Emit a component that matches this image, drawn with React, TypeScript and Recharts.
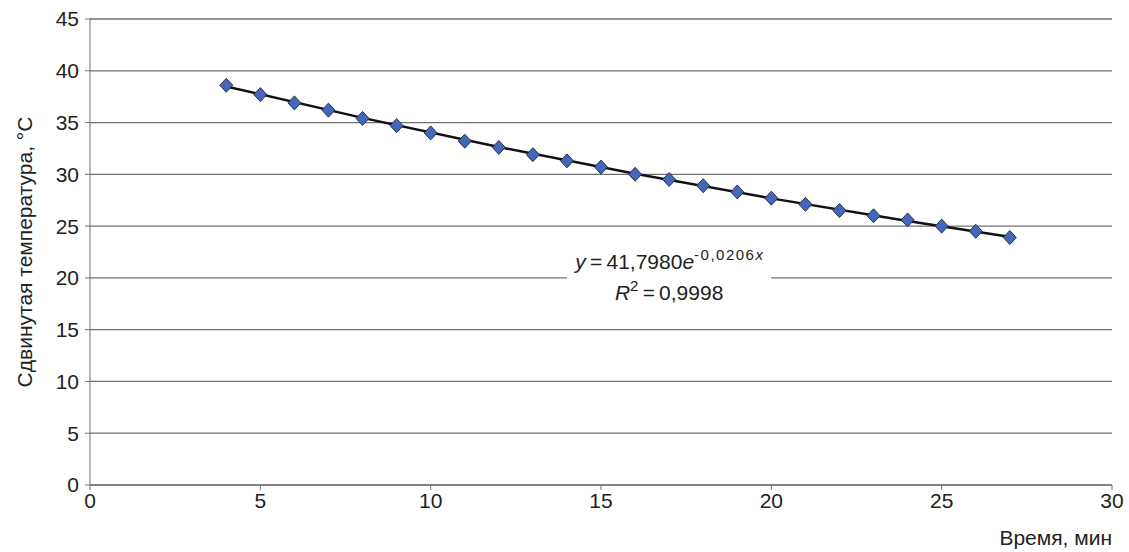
import React from 'react';
import { ComposedChart, Scatter, Line, XAxis, YAxis, CartesianGrid, ReferenceArea } from 'recharts';

const timeMin = [4, 5, 6, 7, 8, 9, 10, 11, 12, 13, 14, 15, 16, 17, 18, 19, 20, 21, 22, 23, 24, 25, 26, 27];
const shiftedTemp = [38.6, 37.7, 36.9, 36.2, 35.4, 34.7, 34.0, 33.2, 32.6, 31.9, 31.3, 30.7, 30.0, 29.5, 28.9, 28.3, 27.7, 27.1, 26.5, 26.0, 25.6, 25.0, 24.5, 23.9];
const trendX = [4, 8, 12, 16, 20, 24, 27];
const trendY = [38.49, 35.45, 32.64, 30.06, 27.68, 25.49, 23.97];
const xTicks = [0, 5, 10, 15, 20, 25, 30];
const yTicks = [0, 5, 10, 15, 20, 25, 30, 35, 40, 45];

const points = timeMin.map((x, i) => ({ x, y: shiftedTemp[i] }));
const trend = trendX.map((x, i) => ({ x, t: trendY[i] }));

const FONT = '"Liberation Sans", Arial, sans-serif';
const FS = 21;
const TS = '\u2009';

const Diamond = (props: any) => {
  const { cx, cy } = props;
  if (cx == null || cy == null) return null;
  return (
    <polygon
      points={`${cx},${cy - 7} ${cx + 6.5},${cy} ${cx},${cy + 7} ${cx - 6.5},${cy}`}
      fill="#4466bb"
      stroke="#2a2f45"
      strokeWidth={1}
    />
  );
};

const EqLabel = (props: any) => {
  const vb = props.viewBox;
  if (!vb) return null;
  const cx = vb.x + vb.width / 2;
  return (
    <text fontFamily={FONT} fontSize={FS} fill="#222" textAnchor="middle">
      <tspan x={cx} y={vb.y + 12}>
        <tspan fontStyle="italic">y</tspan>
        <tspan>{`${TS}=${TS}41,7980`}</tspan>
        <tspan fontStyle="italic">e</tspan>
        <tspan fontSize={15} letterSpacing={1.5} dy={-9}>-0,0206</tspan>
        <tspan fontSize={15} fontStyle="italic">x</tspan>
      </tspan>
      <tspan x={cx} y={vb.y + 43}>
        <tspan fontStyle="italic">R</tspan>
        <tspan fontSize={15} dy={-9}>2</tspan>
        <tspan dy={9}>{`${TS}=${TS}0,9998`}</tspan>
      </tspan>
    </text>
  );
};

const XLabel = (props: any) => {
  const vb = props.viewBox;
  if (!vb) return null;
  return (
    <text x={vb.x + vb.width} y={vb.y + 60} textAnchor="end" fontFamily={FONT} fontSize={FS} fill="#222">
      Время, мин
    </text>
  );
};

const YLabel = (props: any) => {
  const vb = props.viewBox;
  if (!vb) return null;
  const x = 24;
  const y = vb.y + vb.height / 2;
  return (
    <text x={x} y={y} transform={`rotate(-90 ${x} ${y})`} textAnchor="middle" dominantBaseline="central" fontFamily={FONT} fontSize={FS} fill="#222">
      Сдвинутая температура, °С
    </text>
  );
};

export default function App() {
  return (
    <div style={{ position: 'absolute', left: 0, top: 0, width: 1129, height: 552, background: '#fff' }}>
      <ComposedChart width={1129} height={552} margin={{ top: 19, right: 17, bottom: 0, left: 0 }}>
        <CartesianGrid horizontal vertical={false} stroke="#707070" strokeWidth={1.3} />
        <XAxis
          type="number"
          dataKey="x"
          domain={[0, 30]}
          ticks={xTicks}
          height={67}
          tickSize={5}
          tickMargin={3}
          stroke="#707070"
          tick={{ fill: '#222', fontFamily: FONT, fontSize: FS }}
          allowDuplicatedCategory={false}
          label={<XLabel />}
        />
        <YAxis
          type="number"
          domain={[0, 45]}
          ticks={yTicks}
          width={90}
          tickSize={5}
          tickMargin={6}
          stroke="#707070"
          tick={{ fill: '#222', fontFamily: FONT, fontSize: FS }}
          label={<YLabel />}
        />
        <ReferenceArea x1={14} x2={20} y1={17} y2={22} fill="#fff" fillOpacity={1} stroke="none" label={<EqLabel />} ifOverflow="visible" />
        <Scatter data={points} dataKey="y" shape={<Diamond />} isAnimationActive={false} />
        <Line data={trend} dataKey="t" type="monotone" stroke="#111" strokeWidth={2.5} dot={false} activeDot={false} isAnimationActive={false} />
      </ComposedChart>
    </div>
  );
}
